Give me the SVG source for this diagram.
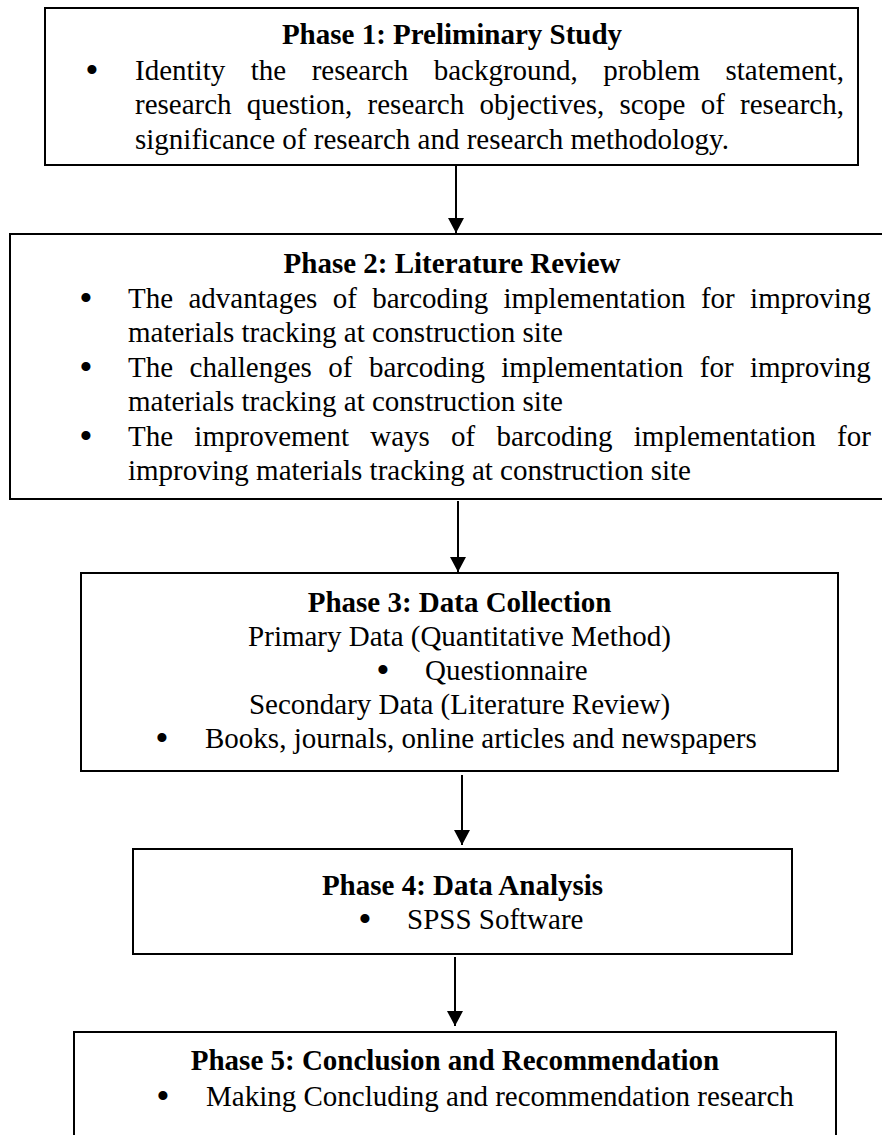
<svg xmlns="http://www.w3.org/2000/svg" width="882" height="1135" viewBox="0 0 882 1135">
<style>
.box{fill:#fff;stroke:#000;stroke-width:2}
.t{font-family:"Liberation Serif","Times New Roman",serif;font-size:29px;fill:#000}
.b{font-weight:bold}
.c{text-anchor:middle}
.bu{font-family:"Liberation Serif","Times New Roman",serif;font-size:38px;fill:#000;text-anchor:middle}
.conn{stroke:#000;stroke-width:2;fill:none}
</style>
<defs>
<marker id="ah" markerUnits="userSpaceOnUse" markerWidth="16" markerHeight="16" refX="15" refY="8" orient="auto">
<path d="M0,0 L15,8 L0,16 Z" fill="#000"/>
</marker>
</defs>
<rect width="882" height="1135" fill="#fff"/>
<g id="connectors">
<line class="conn" x1="456" y1="166" x2="456" y2="233" marker-end="url(#ah)"/>
<line class="conn" x1="458" y1="501" x2="458" y2="572" marker-end="url(#ah)"/>
<line class="conn" x1="462" y1="775" x2="462" y2="845" marker-end="url(#ah)"/>
<line class="conn" x1="455" y1="957" x2="455" y2="1026" marker-end="url(#ah)"/>
</g>
<g id="phase1">
<rect class="box" x="45" y="8" width="813" height="157"/>
<text class="t b c" x="452" y="44">Phase 1: Preliminary Study</text>
<text class="bu" x="92" y="83">•</text>
<text class="t" x="135" y="80" word-spacing="18.25">Identity the research background, problem statement,</text>
<text class="t" x="135" y="114" word-spacing="7.98">research question, research objectives, scope of research,</text>
<text class="t" x="135" y="149">significance of research and research methodology.</text>
</g>
<g id="phase2">
<rect class="box" x="10" y="234" width="900" height="265"/>
<text class="t b c" x="452" y="273">Phase 2: Literature Review</text>
<text class="bu" x="86" y="311">•</text>
<text class="t" x="128" y="308" word-spacing="8.12">The advantages of barcoding implementation for improving</text>
<text class="t" x="128" y="342">materials tracking at construction site</text>
<text class="bu" x="86" y="380">•</text>
<text class="t" x="128" y="377" word-spacing="9.18">The challenges of barcoding implementation for improving</text>
<text class="t" x="128" y="411">materials tracking at construction site</text>
<text class="bu" x="86" y="449">•</text>
<text class="t" x="128" y="446" word-spacing="14.02">The improvement ways of barcoding implementation for</text>
<text class="t" x="128" y="480">improving materials tracking at construction site</text>
</g>
<g id="phase3">
<rect class="box" x="81" y="573" width="757" height="198"/>
<text class="t b c" x="459.5" y="612">Phase 3: Data Collection</text>
<text class="t c" x="459.5" y="646">Primary Data (Quantitative Method)</text>
<text class="bu" x="383" y="683">•</text>
<text class="t" x="425" y="680">Questionnaire</text>
<text class="t c" x="459.5" y="714">Secondary Data (Literature Review)</text>
<text class="bu" x="162" y="751">•</text>
<text class="t" x="205" y="748">Books, journals, online articles and newspapers</text>
</g>
<g id="phase4">
<rect class="box" x="133" y="849" width="659" height="105"/>
<text class="t b c" x="462.5" y="895">Phase 4: Data Analysis</text>
<text class="bu" x="365" y="932">•</text>
<text class="t" x="407" y="929">SPSS Software</text>
</g>
<g id="phase5">
<rect class="box" x="74" y="1032" width="762" height="200"/>
<text class="t b c" x="455" y="1070">Phase 5: Conclusion and Recommendation</text>
<text class="bu" x="163" y="1109">•</text>
<text class="t" x="206" y="1106">Making Concluding and recommendation research</text>
</g>
</svg>
